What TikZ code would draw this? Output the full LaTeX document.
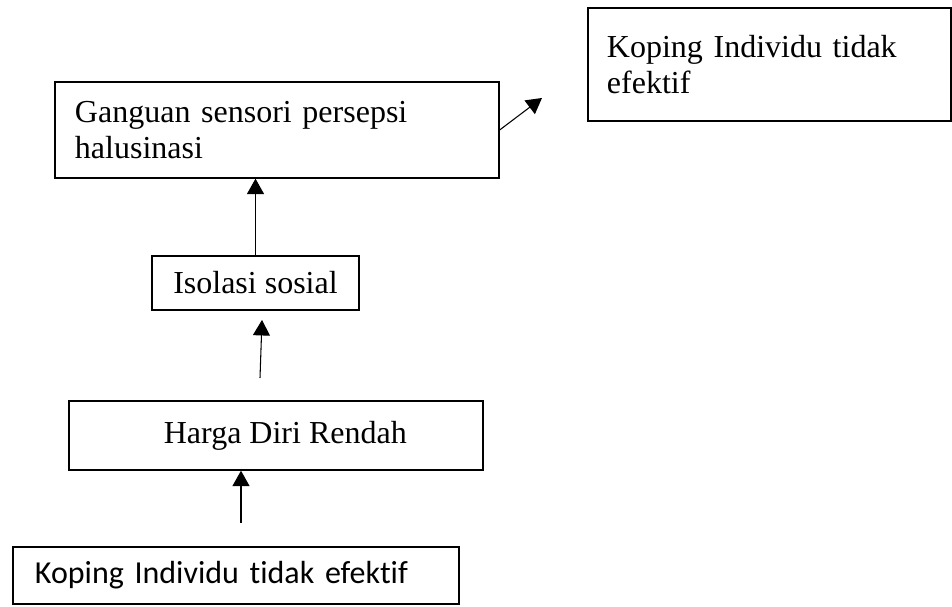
\documentclass[tikz,border=0pt]{standalone}
\usepackage{fontspec}
\setmainfont{Liberation Serif}
\newfontfamily\calibriLike[Ligatures=NoCommon]{Carlito}
\usetikzlibrary{arrows.meta,positioning}
\tikzset{
  diagBox/.style={draw,line width=0.5pt,rectangle,inner ysep=0pt,font=\fontsize{12}{13.5}\selectfont},
  diagArrow/.style={line width=0.4pt,-{Triangle[width=6.4pt,length=5.8pt]}}
}

\begin{document}
\begin{tikzpicture}[x=0.375pt,y=-0.375pt]
\useasboundingbox (0,0) rectangle (952,607);
\node[diagBox,minimum height=42.4pt,inner xsep=7.1pt,text width=121.9pt,align=left] (kopingTop) at (769.5,64.5) {Koping Individu tidak\\efektif};
\node[diagBox,minimum height=36pt,inner xsep=7.5pt,text width=151.5pt,align=left] (gangguan) at (277,130) {Ganguan sensori persepsi\\halusinasi};
\node[diagBox,minimum width=77.6pt,minimum height=20.25pt,inner xsep=0pt] (isolasi) at (255.5,283) {Isolasi sosial};
\node[diagBox,minimum width=155.25pt,minimum height=25.9pt,inner xsep=0pt] (harga) at (276,435.5) {\hspace*{7pt}Harga Diri Rendah};
\node[diagBox,minimum height=21.4pt,inner xsep=8.25pt,text width=150.75pt,align=left,font=\calibriLike\fontsize{12}{13.5}\selectfont] (kopingBottom) at (236,575.5) {Koping Individu tidak efektif};

\coordinate (tailHarga) at (241,523);
\coordinate (tailIsolasi) at (260,378);
\coordinate (tipIsolasi) at (262,320);
\coordinate (tipKoping) at (542,98);

\draw[diagArrow] (tailHarga) -- (tailHarga |- harga.south);
\draw[diagArrow] (tailIsolasi) -- (tipIsolasi);
\draw[diagArrow] (isolasi.north) -- (isolasi.north |- gangguan.south);
\draw[diagArrow] (gangguan.east) -- (tipKoping);
\end{tikzpicture}
\end{document}
